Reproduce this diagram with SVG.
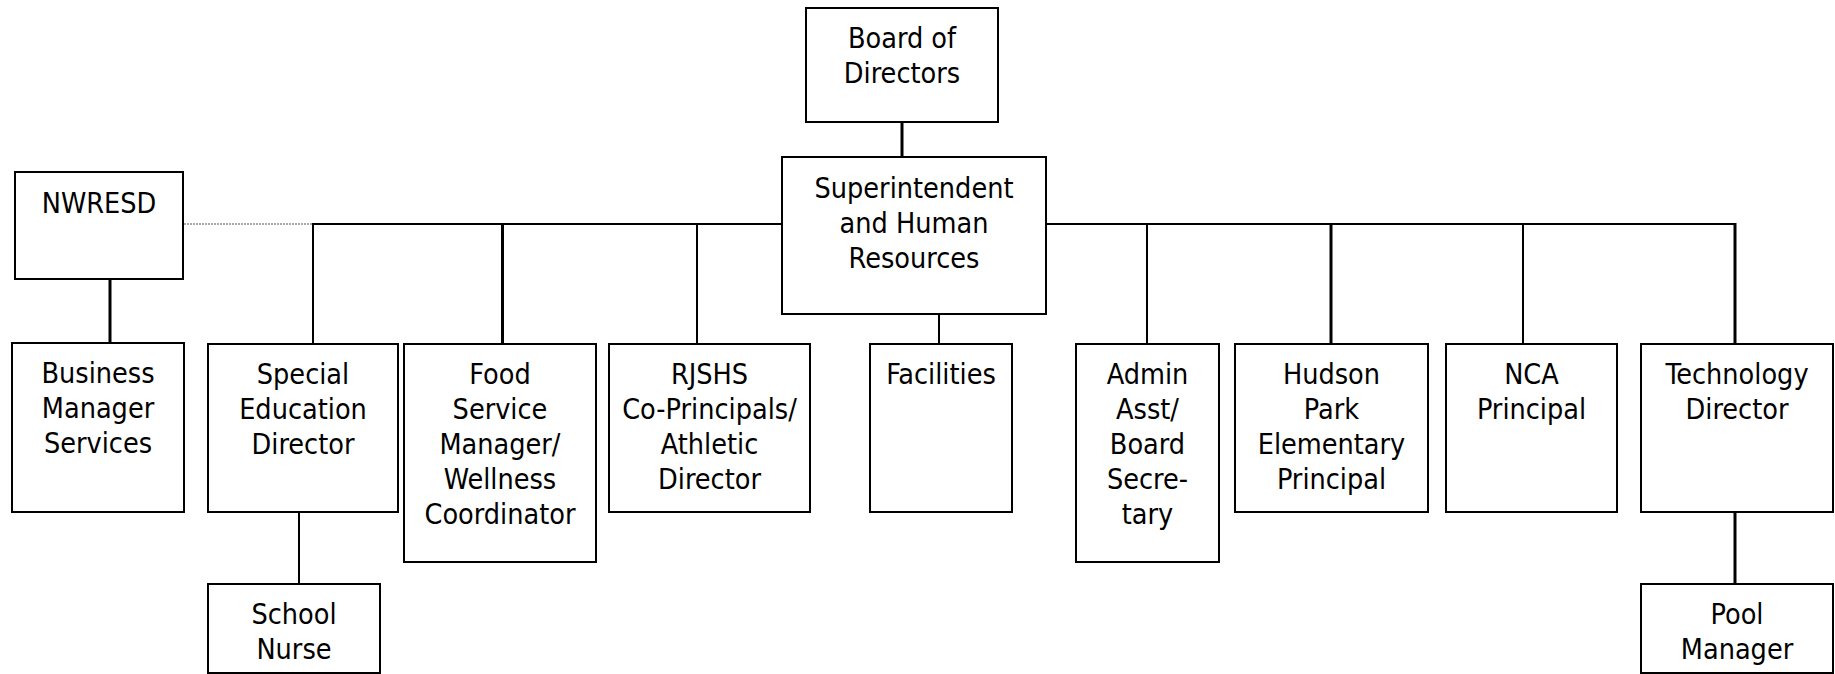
<svg xmlns="http://www.w3.org/2000/svg" width="1835" height="674" viewBox="0 0 1835 674">
<style>
.box{fill:#fff;stroke:#000;stroke-width:2}
.ln{stroke:#000;stroke-width:2;fill:none}
.lt{stroke:#000;stroke-width:3;fill:none}
.dot{stroke:#aaa;stroke-width:2;stroke-dasharray:2 1;fill:none}
text{font-family:"DejaVu Sans Condensed","DejaVu Sans",sans-serif;font-stretch:condensed;font-size:28.5px;fill:#000;text-anchor:middle}
</style>
<rect width="1835" height="674" fill="#fff"/>
<g id="connectors">
<line class="lt" x1="902" y1="122" x2="902" y2="157"/>
<line class="ln" x1="312" y1="224" x2="1736" y2="224"/>
<line class="dot" x1="184" y1="224" x2="312" y2="224"/>
<line class="ln" x1="313" y1="224" x2="313" y2="344"/>
<line class="lt" x1="502.5" y1="224" x2="502.5" y2="344"/>
<line class="ln" x1="697" y1="224" x2="697" y2="344"/>
<line class="ln" x1="939" y1="314" x2="939" y2="344"/>
<line class="ln" x1="1147" y1="224" x2="1147" y2="344"/>
<line class="lt" x1="1331" y1="224" x2="1331" y2="344"/>
<line class="ln" x1="1523" y1="224" x2="1523" y2="344"/>
<line class="lt" x1="1735" y1="223" x2="1735" y2="344"/>
<line class="lt" x1="110" y1="279" x2="110" y2="343"/>
<line class="ln" x1="299" y1="512" x2="299" y2="584"/>
<line class="lt" x1="1735" y1="512" x2="1735" y2="584"/>
</g>
<g id="board"><rect class="box" x="806" y="8" width="192" height="114"/><text x="902" y="48">Board of</text><text x="902" y="83">Directors</text></g>
<g id="superintendent"><rect class="box" x="782" y="157" width="264" height="157"/><text x="914" y="198">Superintendent</text><text x="914" y="233">and Human</text><text x="914" y="268">Resources</text></g>
<g id="nwresd"><rect class="box" x="15" y="172" width="168" height="107"/><text x="99" y="213">NWRESD</text></g>
<g id="business"><rect class="box" x="12" y="343" width="172" height="169"/><text x="98" y="383">Business</text><text x="98" y="418">Manager</text><text x="98" y="453">Services</text></g>
<g id="special-ed"><rect class="box" x="208" y="344" width="190" height="168"/><text x="303" y="384">Special</text><text x="303" y="419">Education</text><text x="303" y="454">Director</text></g>
<g id="food"><rect class="box" x="404" y="344" width="192" height="218"/><text x="500" y="384">Food</text><text x="500" y="419">Service</text><text x="500" y="454">Manager/</text><text x="500" y="489">Wellness</text><text x="500" y="524">Coordinator</text></g>
<g id="rjshs"><rect class="box" x="609" y="344" width="201" height="168"/><text x="709.5" y="384">RJSHS</text><text x="709.5" y="419">Co-Principals/</text><text x="709.5" y="454">Athletic</text><text x="709.5" y="489">Director</text></g>
<g id="facilities"><rect class="box" x="870" y="344" width="142" height="168"/><text x="941" y="384">Facilities</text></g>
<g id="admin"><rect class="box" x="1076" y="344" width="143" height="218"/><text x="1147.5" y="384">Admin</text><text x="1147.5" y="419">Asst/</text><text x="1147.5" y="454">Board</text><text x="1147.5" y="489">Secre-</text><text x="1147.5" y="524">tary</text></g>
<g id="hudson"><rect class="box" x="1235" y="344" width="193" height="168"/><text x="1331.5" y="384">Hudson</text><text x="1331.5" y="419">Park</text><text x="1331.5" y="454">Elementary</text><text x="1331.5" y="489">Principal</text></g>
<g id="nca"><rect class="box" x="1446" y="344" width="171" height="168"/><text x="1531.5" y="384">NCA</text><text x="1531.5" y="419">Principal</text></g>
<g id="technology"><rect class="box" x="1641" y="344" width="192" height="168"/><text x="1737" y="384">Technology</text><text x="1737" y="419">Director</text></g>
<g id="school-nurse"><rect class="box" x="208" y="584" width="172" height="89"/><text x="294" y="624">School</text><text x="294" y="659">Nurse</text></g>
<g id="pool"><rect class="box" x="1641" y="584" width="192" height="89"/><text x="1737" y="624">Pool</text><text x="1737" y="659">Manager</text></g>
</svg>
